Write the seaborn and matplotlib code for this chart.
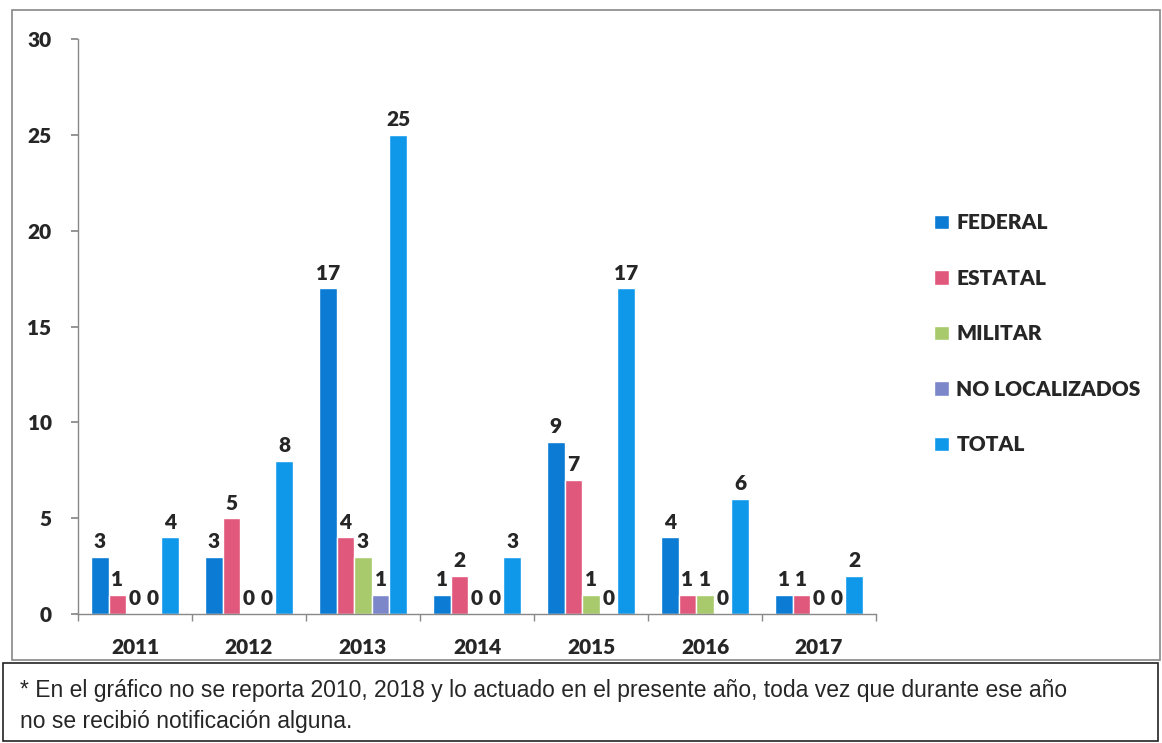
import matplotlib
matplotlib.use("Agg")
import matplotlib.pyplot as plt
from matplotlib.patches import Rectangle
import seaborn as sns
import pandas as pd

years = ["2011", "2012", "2013", "2014", "2015", "2016", "2017"]
federal = [3, 3, 17, 1, 9, 4, 1]
estatal = [1, 5, 4, 2, 7, 1, 1]
militar = [0, 0, 3, 0, 1, 1, 0]
no_localizados = [0, 0, 1, 0, 0, 0, 0]
total = [4, 8, 25, 3, 17, 6, 2]

series = ["FEDERAL", "ESTATAL", "MILITAR", "NO LOCALIZADOS", "TOTAL"]
colors = ["#0b7bd4", "#e0587c", "#a9c96d", "#7b87c9", "#0f98ea"]

note = ("* En el gráfico no se reporta 2010, 2018 y lo actuado en el presente año, toda vez que durante ese año\n"
        "no se recibió notificación alguna.")

rows = []
for name, vals in zip(series, [federal, estatal, militar, no_localizados, total]):
    for y, v in zip(years, vals):
        rows.append({"year": y, "value": v, "type": name})
df = pd.DataFrame(rows)

sns.set_theme(style="white")
plt.rcParams['font.family'] = ['Lato', 'DejaVu Sans']
plt.rcParams['font.weight'] = 'heavy'

fig = plt.figure(figsize=(11.62, 7.43), dpi=100)
ax = fig.add_axes([0.0671, 0.1736, 0.6868, 0.7739])

sns.barplot(data=df, x="year", y="value", hue="type", hue_order=series,
            palette=colors, width=0.77, saturation=1, ax=ax, legend=True)

for c in ax.containers:
    ax.bar_label(c, fmt="%d", padding=4, fontsize=15, fontweight="heavy")

ax.set_ylim(0, 30)
ax.set_xlim(-0.5, 6.5)
ax.set_yticks([0, 5, 10, 15, 20, 25, 30])
ax.set_xlabel("")
ax.set_ylabel("")
ax.set_xticks([i - 0.5 for i in range(8)], minor=True)
ax.tick_params(axis="x", which="major", length=0, pad=17, labelsize=15)
ax.tick_params(axis="x", which="minor", length=5, direction="out", color="#888888", bottom=True)
ax.tick_params(axis="y", which="major", length=5, direction="out", color="#888888", pad=14, labelsize=15, left=True)
for lab in ax.get_xticklabels() + ax.get_yticklabels():
    lab.set_fontweight("heavy")
for s in ["top", "right"]:
    ax.spines[s].set_visible(False)
for s in ["left", "bottom"]:
    ax.spines[s].set_color("#888888")
    ax.spines[s].set_linewidth(1)

handles, labels = ax.get_legend_handles_labels()
ax.legend_.remove()
fig.legend(handles, labels, loc="upper left", bbox_to_anchor=(0.788, 0.738),
           frameon=False, handlelength=0.7, handleheight=0.7, handletextpad=0.35,
           labelspacing=1.75, prop={"weight": "heavy", "size": 15})

# chart frame and note box
fig.patches.append(Rectangle((12 / 1162, 1 - 660 / 743), 1148 / 1162, 650 / 743,
                             transform=fig.transFigure, fill=False, edgecolor="#888888", lw=1.2))
fig.patches.append(Rectangle((3 / 1162, 1 - 741 / 743), 1155 / 1162, 78 / 743,
                             transform=fig.transFigure, fill=False, edgecolor="#222222", lw=1.2))
fig.text(20 / 1162, 1 - 679 / 743, note, ha="left", va="top", fontsize=16.5,
         family=["Liberation Sans Narrow", "Liberation Sans", "DejaVu Sans"],
         fontweight="normal", linespacing=1.45)

fig.savefig("out.png", dpi=100)
